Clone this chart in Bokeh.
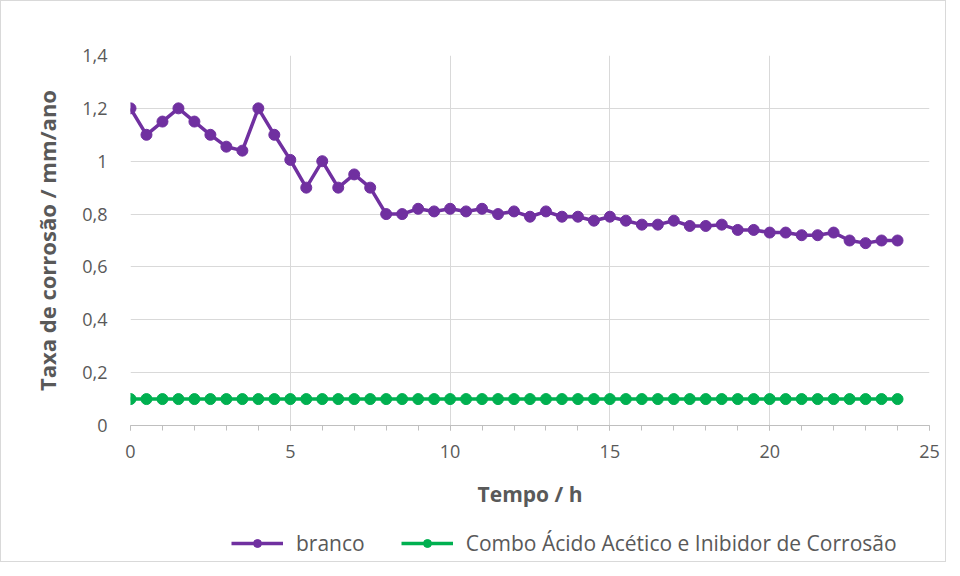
from bokeh.plotting import figure
from bokeh.layouts import column
from bokeh.models import FixedTicker, Legend, LegendItem
from bokeh.embed import file_html
from bokeh.resources import INLINE

tempo = [i * 0.5 for i in range(49)]
branco = [1.20, 1.10, 1.15, 1.20, 1.15, 1.10, 1.055, 1.04, 1.20, 1.10,
          1.005, 0.90, 1.00, 0.90, 0.95, 0.90, 0.80, 0.80, 0.82, 0.81,
          0.82, 0.81, 0.82, 0.80, 0.81, 0.79, 0.81, 0.79, 0.79, 0.775,
          0.79, 0.775, 0.76, 0.76, 0.775, 0.755, 0.755, 0.76, 0.74, 0.74,
          0.73, 0.73, 0.72, 0.72, 0.73, 0.70, 0.69, 0.70, 0.70]
combo = [0.10] * 49

x_ticks = [0, 5, 10, 15, 20, 25]
y_ticks = [0, 0.2, 0.4, 0.6, 0.8, 1.0, 1.2, 1.4]
y_labels = ["0", "0,2", "0,4", "0,6", "0,8", "1", "1,2", "1,4"]
series_names = ["branco", "Combo Ácido Acético e Inibidor de Corrosão"]

FONT = "Open Sans"
GRAY = "#595959"
PURPLE = "#7030A0"
GREEN = "#00B050"

p = figure(width=944, height=520, output_backend="svg", toolbar_location=None,
           x_range=(0, 25), y_range=(0, 1.4),
           min_border_left=129, min_border_right=16, min_border_top=54, min_border_bottom=96)
p.outline_line_color = None

p.line(tempo, branco, line_color=PURPLE, line_width=3.5)
p.scatter(tempo, branco, size=11, fill_color=PURPLE, line_color=PURPLE)
p.line(tempo, combo, line_color=GREEN, line_width=3.5)
p.scatter(tempo, combo, size=11, fill_color=GREEN, line_color=GREEN)

p.xaxis.ticker = FixedTicker(ticks=x_ticks, minor_ticks=list(range(0, 26)))
p.yaxis.ticker = FixedTicker(ticks=y_ticks)
p.yaxis.major_label_overrides = {t: l for t, l in zip(y_ticks, y_labels)}

for ax in (p.xaxis[0], p.yaxis[0]):
    ax.major_label_text_font = FONT
    ax.major_label_text_font_size = "18px"
    ax.major_label_text_color = GRAY
    ax.axis_label_text_font = FONT
    ax.axis_label_text_font_size = "21px"
    ax.axis_label_text_font_style = "bold"
    ax.axis_label_text_color = GRAY

p.xaxis.axis_label = "Tempo / h"
p.xaxis.axis_line_color = "#bfbfbf"
p.xaxis.major_tick_line_color = "#bfbfbf"
p.xaxis.minor_tick_line_color = "#bfbfbf"
p.xaxis.major_tick_out = 5
p.xaxis.major_tick_in = 0
p.xaxis.minor_tick_out = 5
p.xaxis.minor_tick_in = 0
p.xaxis.major_label_standoff = 14
p.xaxis.axis_label_standoff = 19

p.yaxis.axis_label = "Taxa de corrosão / mm/ano"
p.yaxis.axis_label_text_font_size = "22px"
p.yaxis.axis_line_color = None
p.yaxis.major_tick_line_color = None
p.yaxis.minor_tick_line_color = None
p.yaxis.major_label_standoff = 17
p.yaxis.axis_label_standoff = 17

p.xgrid.grid_line_color = "#d9d9d9"
p.ygrid.grid_line_color = "#d9d9d9"

# legend strip (dummy renderers kept outside the visible range)
q = figure(width=944, height=40, output_backend="svg", toolbar_location=None,
           x_range=(0, 1), y_range=(0, 1), min_border=0)
q.axis.visible = False
q.grid.visible = False
q.outline_line_color = None
dx = [-10, -9]
dy = [-10, -10]
l1 = q.line(dx, dy, line_color=PURPLE, line_width=3.5)
m1 = q.scatter(dx, dy, size=11, fill_color=PURPLE, line_color=PURPLE)
l2 = q.line(dx, dy, line_color=GREEN, line_width=3.5)
m2 = q.scatter(dx, dy, size=11, fill_color=GREEN, line_color=GREEN)

legend = Legend(items=[LegendItem(label=series_names[0], renderers=[l1, m1]),
                       LegendItem(label=series_names[1], renderers=[l2, m2])],
                orientation="horizontal", location=(101, 4))
legend.label_text_font = FONT
legend.label_text_font_size = "21px"
legend.label_text_color = GRAY
legend.glyph_width = 52
legend.label_standoff = 13
legend.spacing = 36
legend.border_line_color = None
legend.background_fill_alpha = 0
legend.padding = 0
legend.margin = 0
q.add_layout(legend)

layout = column(p, q, spacing=0, styles={"border": "1px solid #d9d9d9"})

open("out.html", "w").write(file_html(layout, INLINE))
